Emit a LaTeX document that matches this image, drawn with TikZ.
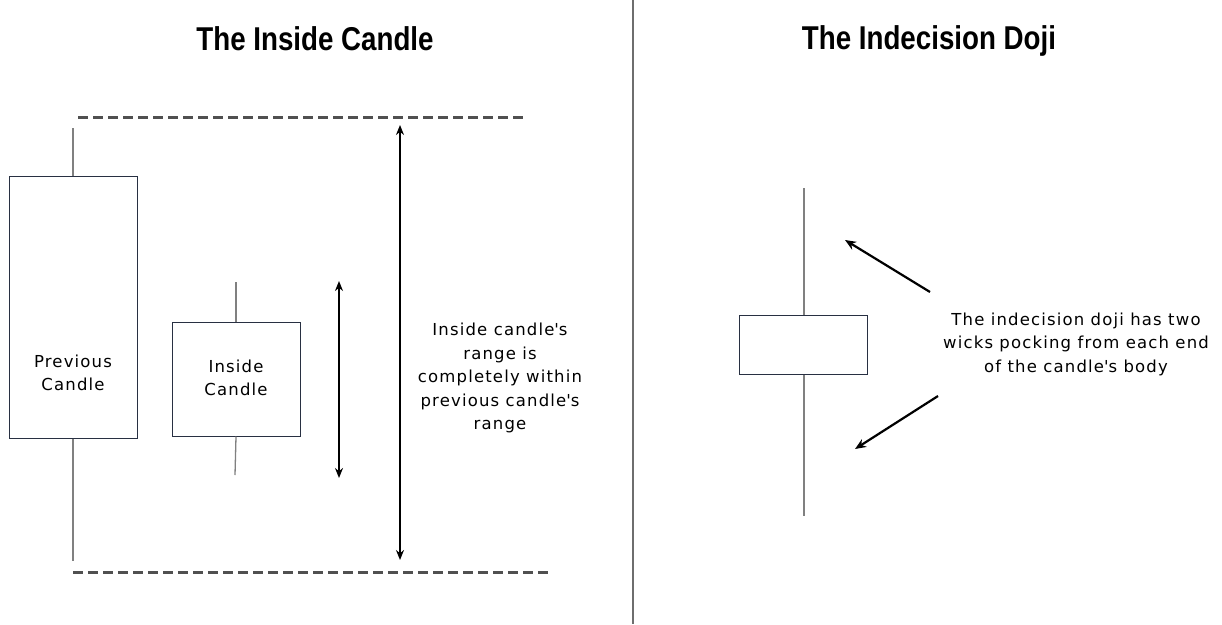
\documentclass[tikz,border=0pt]{standalone}
\usepackage{fontspec}
\usepackage{graphicx}
\setmainfont[LetterSpace=7]{DejaVu Sans}
\newfontfamily\titlefont{Liberation Sans}
\usetikzlibrary{positioning,arrows.meta,calc}
\definecolor{cLine}{RGB}{40,48,66}
\definecolor{cWick}{RGB}{128,128,128}
\definecolor{cDash}{RGB}{80,80,80}
\definecolor{cSep}{RGB}{110,110,110}
\tikzset{
  candle/.style={rectangle, draw=cLine, fill=white, line width=1pt,
                 inner sep=0pt},
  lbl/.style={align=center, inner sep=0pt, font=\fontsize{16.5}{23}\selectfont},
  wick/.style={draw=cWick, line width=1.3pt},
  rangeline/.style={draw=cDash, line width=3pt, dash pattern=on 10pt off 5pt},
  spanarrow/.style={{Stealth[length=10pt,width=8pt]}-{Stealth[length=10pt,width=8pt]},
               draw=black, line width=2pt},
  pointer/.style={-{Stealth[length=11pt,width=9pt]}, draw=black, line width=2.2pt},
  ttl/.style={font=\titlefont\bfseries\fontsize{33}{36}\selectfont, inner sep=0pt},
  notetext/.style={align=center, font=\fontsize{16.5}{23.5}\selectfont, inner sep=0pt},
}
\newcommand{\Title}[1]{\scalebox{0.84}[1]{#1}}
\newcommand{\q}{\textquotesingle}
\begin{document}
\begin{tikzpicture}[x=1pt, y=-1pt]
  \useasboundingbox (0,0) rectangle (1222,624);
  % separator between the two panels
  \draw[cSep, line width=1.3pt] (633,0) -- (633,624);
  % left panel: inside candle
  \node[ttl] (ttlA) at (315,39) {\Title{The Inside Candle}};
  \coordinate (topA) at (78,117);
  \coordinate (topB) at (527,117);
  \coordinate (botA) at (73,572);
  \coordinate (botB) at (549,572);
  \draw[rangeline] (topA) -- (topB);
  \draw[rangeline] (botA) -- (botB);
  \node[candle, minimum width=128pt, minimum height=262pt] (prev) at (73,307) {};
  \node[lbl] (prevTxt) at (73,373) {Previous\\Candle};
  \node[candle, minimum width=128pt, minimum height=114pt] (ins) at (236,379) {};
  \node[lbl] (insTxt) at (236,378) {Inside\\Candle};
  \coordinate (prevHi) at (73,128);
  \coordinate (prevLo) at (73,561);
  \coordinate (insHi) at (236,282);
  \coordinate (insLo) at (235,475);
  \draw[wick] (prevHi) -- (prev.north);
  \draw[wick] (prev.south) -- (prevLo);
  \draw[wick] (insHi) -- (ins.north);
  \draw[wick] (ins.south) -- (insLo);
  \coordinate (insSpanHi) at (339,281);
  \coordinate (insSpanLo) at (339,478);
  \coordinate (prevSpanHi) at (400,125);
  \coordinate (prevSpanLo) at (400,560);
  \draw[spanarrow] (insSpanHi) -- (insSpanLo);
  \draw[spanarrow] (prevSpanHi) -- (prevSpanLo);
  \node[notetext] (noteA) at (500,378)
    {Inside candle\q s\\range is\\completely within\\previous candle\q s\\range};
  % right panel: indecision doji
  \node[ttl] (ttlB) at (929,41) {\Title{The Indecision Doji}};
  \node[candle, minimum width=128pt, minimum height=59pt] (doji) at (803,345) {};
  \coordinate (dojiHi) at (804,188);
  \coordinate (dojiLo) at (804,516);
  \draw[wick] (dojiHi) -- (doji.north -| dojiHi);
  \draw[wick] (doji.south -| dojiLo) -- (dojiLo);
  \node[notetext] (noteB) at (1076,344)
    {The indecision doji has two\\wicks pocking from each end\\of the candle\q s body};
  \coordinate (tailHi) at (930,292);
  \coordinate (tipHi) at (845,240);
  \coordinate (tailLo) at (938,396);
  \coordinate (tipLo) at (855,449);
  \draw[pointer] (tailHi) -- (tipHi);
  \draw[pointer] (tailLo) -- (tipLo);
\end{tikzpicture}
\end{document}
